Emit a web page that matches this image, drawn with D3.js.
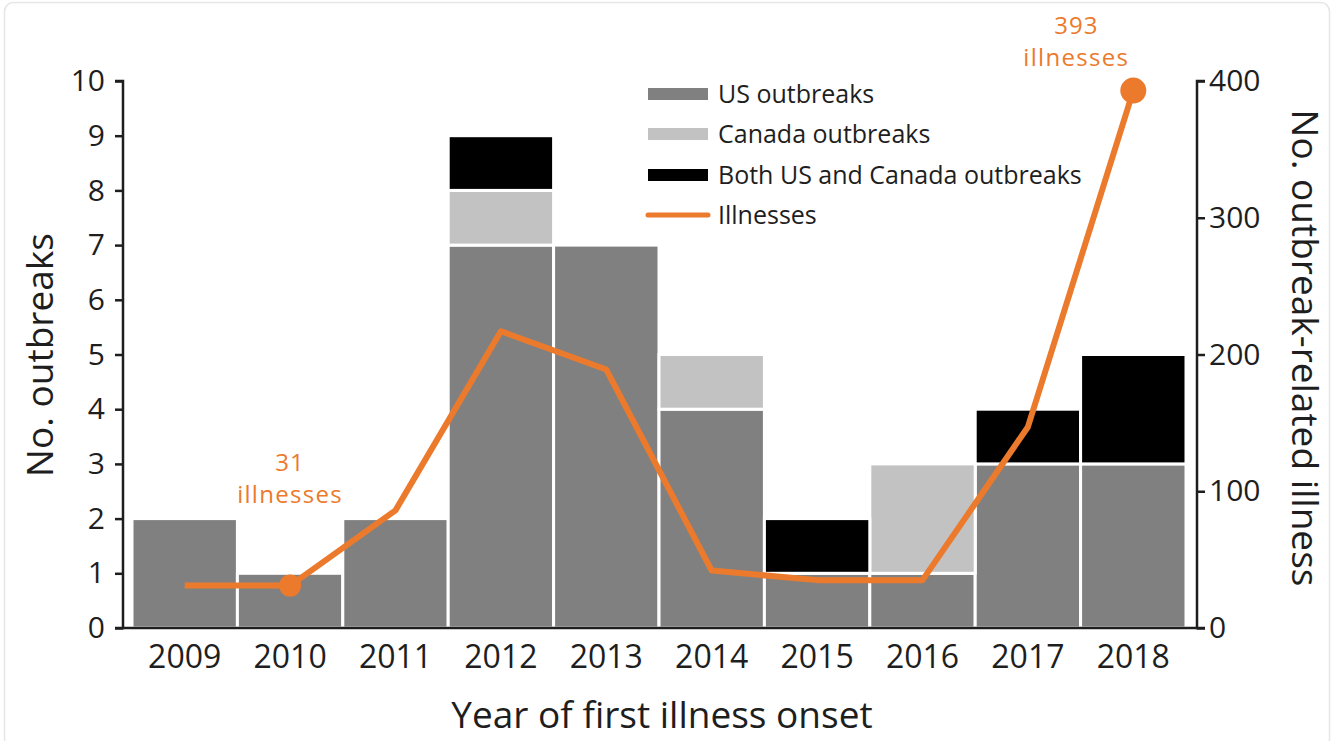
<!DOCTYPE html>
<html>
<head>
<meta charset="utf-8">
<script src="https://cdn.jsdelivr.net/npm/d3@7"></script>
<style>
  html, body { margin: 0; padding: 0; background: #fff; }
  svg { display: block; font-family: "Open Sans", "Noto Sans", sans-serif; }
</style>
</head>
<body>
<svg id="chart" width="1334" height="741"></svg>
<script>
const years = ["2009","2010","2011","2012","2013","2014","2015","2016","2017","2018"];
const usOutbreaks =     [2,1,2,7,7,4,1,1,3,3];
const canadaOutbreaks = [0,0,0,1,0,1,0,2,0,0];
const bothOutbreaks =   [0,0,0,1,0,0,1,0,1,2];
const illnesses =       [31,31,86,217,189,42,35,35,147,393];
const leftTicks = [0,1,2,3,4,5,6,7,8,9,10];
const rightTicks = [0,100,200,300,400];
const seriesNames = ["US outbreaks","Canada outbreaks","Both US and Canada outbreaks","Illnesses"];
const seriesColors = ["#808080","#c2c2c2","#000000","#ec7a2c"];

const svg = d3.select("#chart");
const orange = seriesColors[3];
const axisColor = "#1e1e1e";

// outer frame
svg.append("rect").attr("x",4.5).attr("y",2.5).attr("width",1325).attr("height",745)
  .attr("rx",9).attr("fill","#fff").attr("stroke","#e6e6e6").attr("stroke-width",1.5);

const x = d3.scaleBand().domain(years).range([132,1186]).padding(0);
const yL = d3.scaleLinear().domain([0,10]).range([628,81]);
const yR = d3.scaleLinear().domain([0,400]).range([628,81]);

// stacked data
const keys = ["us","canada","both"];
const rows = years.map((yr,i)=>({year:yr, us:usOutbreaks[i], canada:canadaOutbreaks[i], both:bothOutbreaks[i]}));
const stacked = d3.stack().keys(keys)(rows);

svg.append("g").selectAll("g").data(stacked).join("g")
  .attr("fill",(d,i)=>seriesColors[i])
  .selectAll("rect").data(d=>d.filter(s=>s[1]-s[0]>0)).join("rect")
  .attr("x",d=>x(d.data.year))
  .attr("width",x.bandwidth())
  .attr("y",d=>yL(d[1]))
  .attr("height",d=>yL(d[0])-yL(d[1]))
  .attr("stroke","#fff").attr("stroke-width",3);

// left axis
const gL = svg.append("g").attr("transform","translate(123,0)")
  .call(d3.axisLeft(yL).tickValues(leftTicks).tickSize(8).tickPadding(10).tickFormat(d3.format("d")));
gL.select(".domain").attr("stroke",axisColor).attr("stroke-width",2.5).attr("d","M-8,81H0V628H-8");
gL.selectAll(".tick line").attr("stroke",axisColor).attr("stroke-width",2.5);
gL.selectAll(".tick text").attr("fill",axisColor).attr("font-size",30).attr("font-family","Open Sans");

// right axis
const gR = svg.append("g").attr("transform","translate(1197,0)")
  .call(d3.axisRight(yR).tickValues(rightTicks).tickSize(8).tickPadding(4).tickFormat(d3.format("d")));
gR.select(".domain").attr("stroke",axisColor).attr("stroke-width",2.5).attr("d","M8,81H0V628H8");
gR.selectAll(".tick line").attr("stroke",axisColor).attr("stroke-width",2.5);
gR.selectAll(".tick text").attr("fill",axisColor).attr("font-size",30).attr("font-family","Open Sans");

// x axis
const gX = svg.append("g").attr("transform","translate(0,628)")
  .call(d3.axisBottom(x).tickSize(0).tickPadding(17));
gX.select(".domain").attr("stroke",axisColor).attr("stroke-width",2.5).attr("d","M123,0H1197");
gX.selectAll(".tick text").attr("fill",axisColor).attr("font-size",32).attr("font-family","Open Sans");

// illness line
const line = d3.line().x((d,i)=>x(years[i])+x.bandwidth()/2).y(d=>yR(d)).curve(d3.curveLinear);
svg.append("path").datum(illnesses).attr("d",line)
  .attr("fill","none").attr("stroke",orange).attr("stroke-width",6).attr("stroke-linejoin","round");

const markIdx = [1,9];
svg.append("g").selectAll("circle").data(markIdx).join("circle")
  .attr("cx",i=>x(years[i])+x.bandwidth()/2)
  .attr("cy",i=>yR(illnesses[i]))
  .attr("r",(i,k)=>k===0?11:13)
  .attr("fill",orange);

// annotations
const ann = [{i:1, dx:0, y1:471, y2:503}, {i:9, dx:-57, y1:34, y2:66}];
ann.forEach(a=>{
  const cx = x(years[a.i]) + x.bandwidth()/2 + a.dx;
  svg.append("text").attr("x",cx).attr("y",a.y1).attr("fill",orange).attr("font-size",24)
    .attr("letter-spacing",1).attr("text-anchor","middle").text(illnesses[a.i]);
  svg.append("text").attr("x",cx).attr("y",a.y2).attr("fill",orange).attr("font-size",24)
    .attr("letter-spacing",1.3).attr("text-anchor","middle").text("illnesses");
});

// legend
const legend = svg.append("g").attr("transform","translate(648,0)");
const legY = [94,134,175,215];
seriesNames.forEach((name,i)=>{
  if (i<3) {
    legend.append("rect").attr("x",0).attr("y",legY[i]-6).attr("width",60).attr("height",12).attr("fill",seriesColors[i]);
  } else {
    legend.append("line").attr("x1",0).attr("x2",60).attr("y1",legY[i]).attr("y2",legY[i])
      .attr("stroke",seriesColors[i]).attr("stroke-width",5).attr("stroke-linecap","round");
  }
  legend.append("text").attr("x",70).attr("y",legY[i]).attr("dy","0.35em")
    .attr("font-size",25).attr("fill",axisColor).text(name);
});

// axis titles
svg.append("text").attr("transform","translate(53,355) rotate(-90)")
  .attr("text-anchor","middle").attr("font-size",37).attr("fill",axisColor).text("No. outbreaks");
svg.append("text").attr("transform","translate(1292,348) rotate(90)")
  .attr("text-anchor","middle").attr("font-size",37).attr("fill",axisColor).text("No. outbreak-related illness");
svg.append("text").attr("x",662).attr("y",728)
  .attr("text-anchor","middle").attr("font-size",37).attr("fill",axisColor).text("Year of first illness onset");
</script>
</body>
</html>
